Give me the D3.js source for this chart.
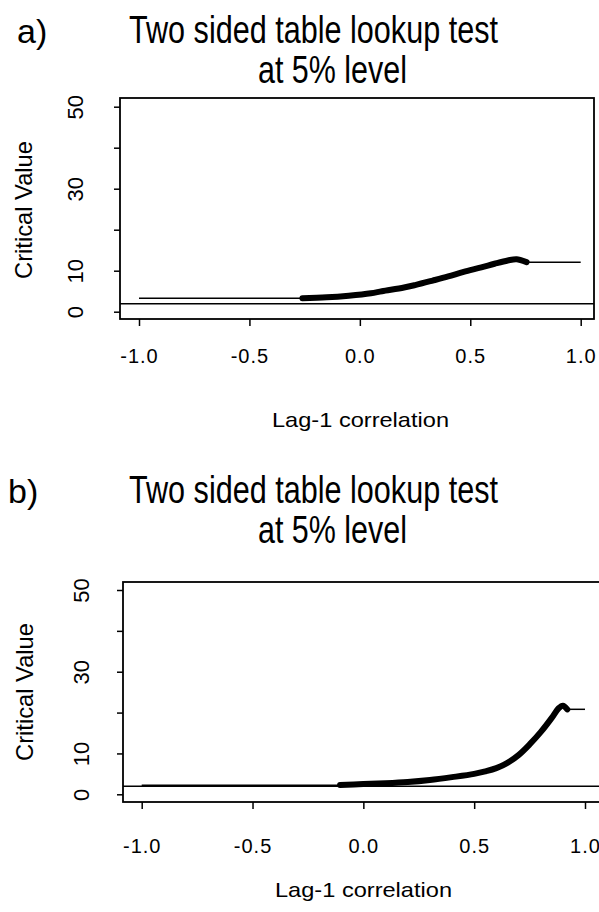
<!DOCTYPE html>
<html>
<head>
<meta charset="utf-8">
<script src="https://cdn.jsdelivr.net/npm/d3@7"></script>
<style>
  body { margin: 0; background: white; }
  text { font-family: "Liberation Sans", Arial, sans-serif; fill: black; }
</style>
</head>
<body>
<div id="chart"></div>
<script>
// data
var xTicks = [-1.0, -0.5, 0.0, 0.5, 1.0],
    yTicks = [0, 10, 20, 30, 40, 50],
    yTickLabels = [0, 10, 30, 50],
    refLevel = 1.96;

// panel a
var aThick_x = [-0.26, -0.15, -0.05, 0.05, 0.1, 0.2, 0.25, 0.33, 0.4, 0.47, 0.55, 0.61, 0.67, 0.71, 0.755],
    aThick_y = [3.3, 3.5, 3.9, 4.5, 5.0, 5.9, 6.5, 7.6, 8.6, 9.7, 10.8, 11.7, 12.5, 12.8, 12.1],
    aLeft_x = [-1.0, -0.26], aLeft_y = [3.3, 3.3],
    aRight_x = [0.755, 1.0], aRight_y = [12.05, 12.05];

// panel b
var bThick_x = [-0.105, 0.0, 0.1, 0.2, 0.3, 0.4, 0.5, 0.55, 0.6, 0.65, 0.7, 0.75, 0.8, 0.85, 0.88, 0.9, 0.92],
    bThick_y = [2.3, 2.5, 2.7, 3.0, 3.5, 4.2, 5.0, 5.6, 6.4, 7.7, 9.6, 12.2, 15.2, 18.7, 21.0, 21.7, 20.8],
    bLeft_x = [-1.0, -0.105], bLeft_y = [2.2, 2.2],
    bRight_x = [0.92, 1.0], bRight_y = [20.8, 20.8];

var w = 599, h = 912;

var svg = d3.select("#chart")
            .append("svg")
            .attr("width", w)
            .attr("height", h)
            .style("background-color", "white");

function zip(xs, ys) {
    return xs.map(function(x, i) { return [x, ys[i]]; });
}

function drawPanel(p) {
    var g = svg.append("g");

    var x = d3.scaleLinear().domain([-1, 1]).range([p.x0, p.x1]),
        y = d3.scaleLinear().domain([0, 50]).range([p.y0, p.y50]);

    // frame
    g.append("rect")
        .attr("x", p.left).attr("y", p.top)
        .attr("width", p.right - p.left).attr("height", p.bottom - p.top)
        .attr("fill", "none").attr("stroke", "black").attr("stroke-width", 1.8);

    // x axis
    var xAxis = d3.axisBottom(x).tickValues(xTicks).tickSize(7);
    var gx = g.append("g").attr("transform", "translate(0," + p.bottom + ")").call(xAxis);
    gx.select(".domain").remove();
    gx.selectAll(".tick line").attr("stroke-width", 1.5);
    gx.selectAll(".tick text")
        .attr("y", p.xLabBase - p.bottom).attr("dy", null)
        .style("font-size", "20px").style("letter-spacing", "1px")
        .text(function(d) { return d3.format(".1f")(d).replace("−", "-"); });

    // y axis
    var yAxis = d3.axisLeft(y).tickValues(yTicks).tickSize(6).tickFormat(function(d) {
        return yTickLabels.indexOf(d) >= 0 ? d : "";
    });
    var gy = g.append("g").attr("transform", "translate(" + p.left + ",0)").call(yAxis);
    gy.select(".domain").remove();
    gy.selectAll(".tick line").attr("stroke-width", 1.5);
    gy.selectAll(".tick text")
        .attr("x", null).attr("dy", null)
        .attr("transform", "translate(" + (p.yLabBase - p.left) + ",0) rotate(-90)")
        .attr("text-anchor", "middle")
        .style("font-size", "22px");

    // reference line
    g.append("line")
        .attr("x1", p.left).attr("x2", p.right)
        .attr("y1", y(refLevel)).attr("y2", y(refLevel))
        .attr("stroke", "black").attr("stroke-width", 1.5);

    var line = d3.line()
        .x(function(d) { return x(d[0]); })
        .y(function(d) { return y(d[1]); });

    g.append("path").datum(zip(p.left_x, p.left_y))
        .attr("d", line).attr("fill", "none").attr("stroke", "black").attr("stroke-width", 1.5);
    g.append("path").datum(zip(p.right_x, p.right_y))
        .attr("d", line).attr("fill", "none").attr("stroke", "black").attr("stroke-width", 1.5);
    g.append("path").datum(zip(p.thick_x, p.thick_y))
        .attr("d", line.curve(d3.curveCatmullRom)).attr("fill", "none").attr("stroke", "black")
        .attr("stroke-width", 6).attr("stroke-linecap", "round").attr("stroke-linejoin", "round");

    // labels
    svg.append("text").attr("x", p.tagX).attr("y", p.t1Base)
        .style("font-size", "34px").text(p.tag);
    svg.append("text").attr("x", 129).attr("y", p.t1Base)
        .attr("textLength", 369).attr("lengthAdjust", "spacingAndGlyphs")
        .style("font-size", "38px").text("Two sided table lookup test");
    svg.append("text").attr("x", 258).attr("y", p.t1Base + 40)
        .attr("textLength", 149).attr("lengthAdjust", "spacingAndGlyphs")
        .style("font-size", "38px").text("at 5% level");

    svg.append("text").attr("x", p.xTitleX).attr("y", p.xTitleBase)
        .attr("textLength", 177).attr("lengthAdjust", "spacingAndGlyphs")
        .style("font-size", "21px").text("Lag-1 correlation");

    svg.append("text")
        .attr("transform", "translate(" + p.yTitleBase + "," + p.yTitleMid + ") rotate(-90)")
        .attr("text-anchor", "middle")
        .attr("textLength", 138).attr("lengthAdjust", "spacingAndGlyphs")
        .style("font-size", "24px").text("Critical Value");
}

drawPanel({
    tag: "a)", tagX: 17, t1Base: 43,
    left: 120, right: 594, top: 98, bottom: 319,
    x0: 139, x1: 580.7, y0: 311.7, y50: 106.7,
    xLabBase: 363, yLabBase: 83,
    xTitleX: 272, xTitleBase: 427,
    yTitleBase: 32, yTitleMid: 210,
    left_x: aLeft_x, left_y: aLeft_y, right_x: aRight_x, right_y: aRight_y,
    thick_x: aThick_x, thick_y: aThick_y
});

drawPanel({
    tag: "b)", tagX: 8, t1Base: 503,
    left: 123, right: 612, top: 582, bottom: 802,
    x0: 141.7, x1: 585, y0: 794.3, y50: 590,
    xLabBase: 853, yLabBase: 89,
    xTitleX: 275, xTitleBase: 897,
    yTitleBase: 33, yTitleMid: 692,
    left_x: bLeft_x, left_y: bLeft_y, right_x: bRight_x, right_y: bRight_y,
    thick_x: bThick_x, thick_y: bThick_y
});
</script>
</body>
</html>
